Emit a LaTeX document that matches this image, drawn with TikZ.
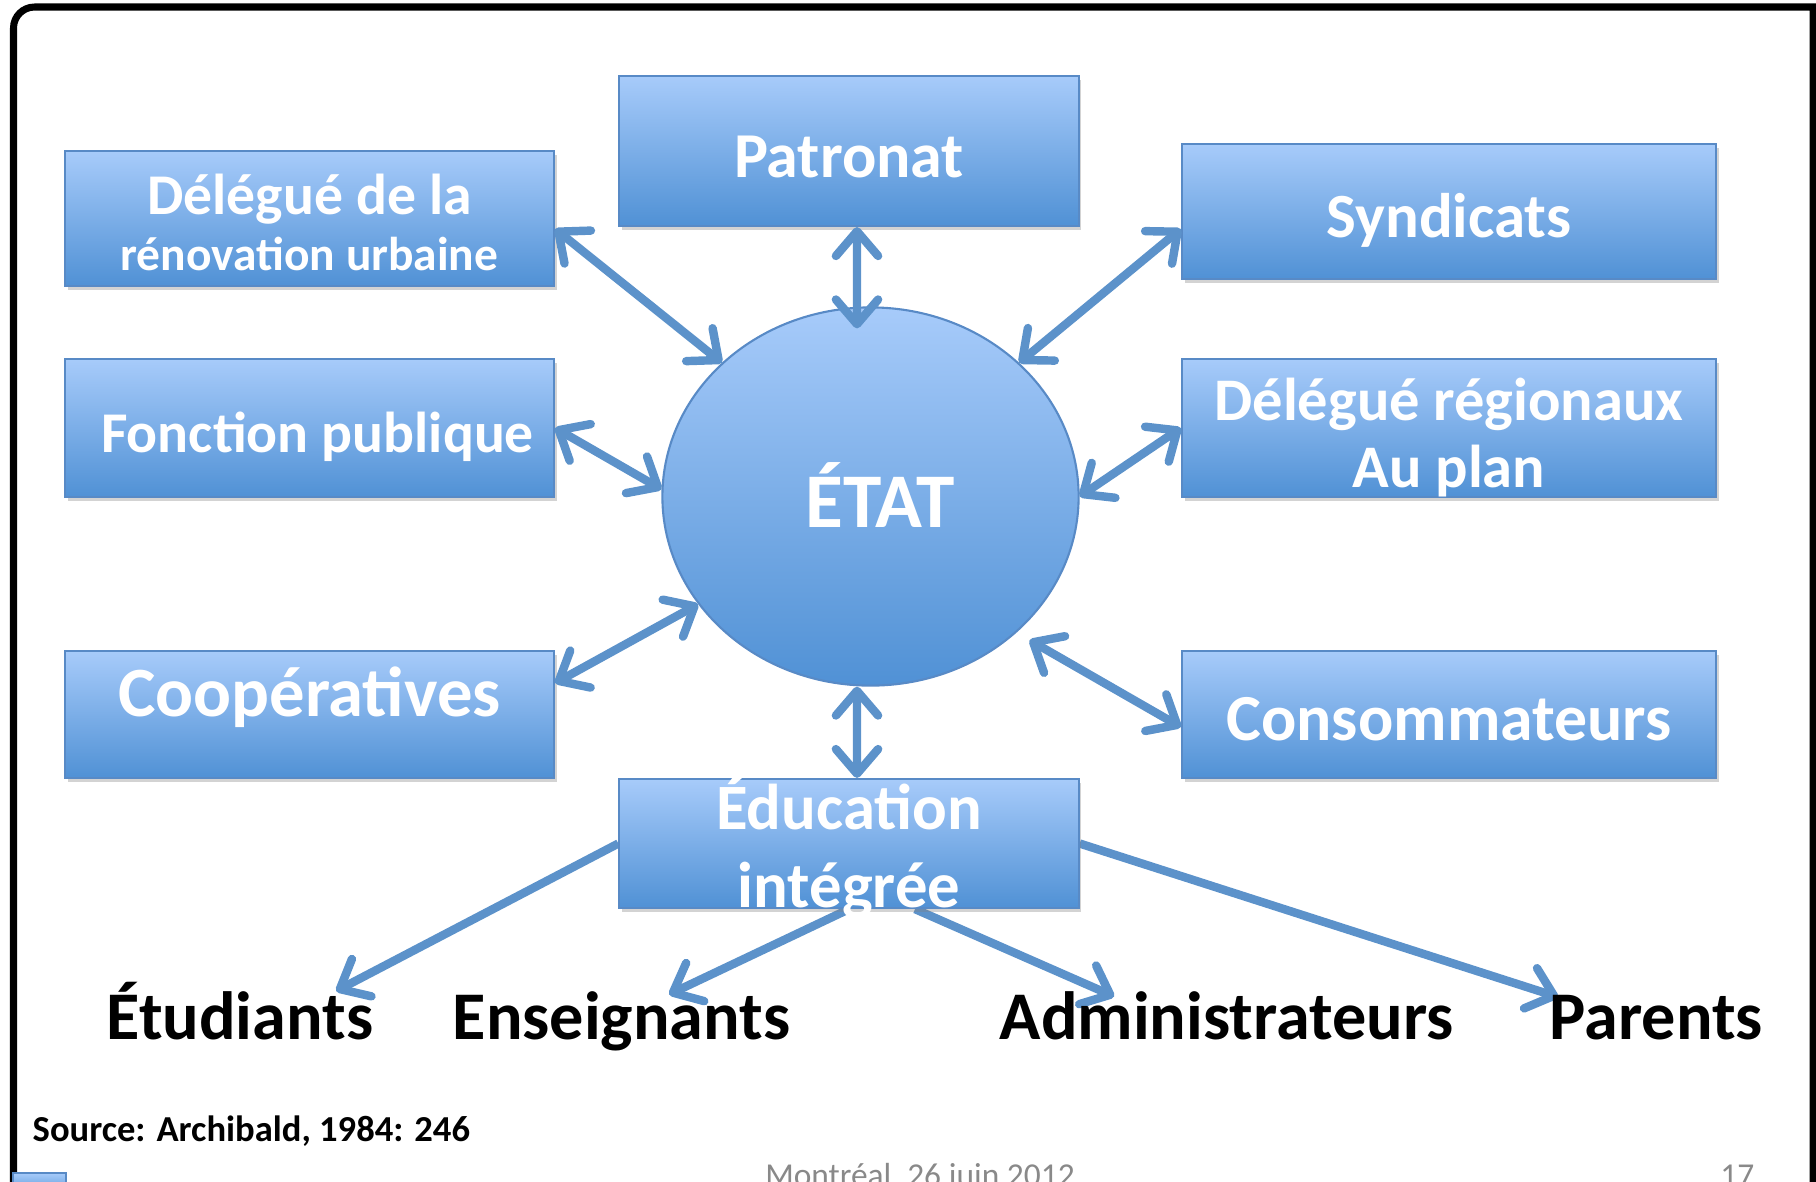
\documentclass[tikz,border=0pt]{standalone}
\usepackage{fontspec}
\setmainfont{Carlito}
\usepackage{tikz}
\usetikzlibrary{arrows.meta,shapes.geometric,shadows,backgrounds}
\definecolor{boxtop}{RGB}{167,203,250}
\definecolor{boxbot}{RGB}{80,145,213}
\definecolor{boxline}{RGB}{88,138,198}
\definecolor{linkblue}{RGB}{92,146,202}
\definecolor{footgrey}{RGB}{137,137,137}

\begin{document}
\begin{tikzpicture}[x=0.01cm, y=-0.01cm,
        acteur/.style={draw=boxline, line width=0.6pt, top color=boxtop, bottom color=boxbot,
            text=white, align=center, inner sep=0pt, text depth=0pt,
            drop shadow={shadow xshift=0.8pt, shadow yshift=-1.2pt, opacity=0.35}},
        link/.style={draw=linkblue, line width=2.4pt, <->},
        sortie/.style={draw=linkblue, line width=2.4pt, ->},
        public/.style={anchor=base west, inner sep=0pt, font=\bfseries\fontsize{19.4}{24}\selectfont},
        >={Straight Barb[length=7pt,width=12pt,round]}]
        \useasboundingbox (0,0) rectangle (1816,1181);
        \draw[line width=2pt] (13.5,1195) [rounded corners=6pt] -- (13.5,7) -- (400,7) [sharp corners] -- (1813,7) -- (1813,1195);
        \draw[draw=boxline, top color=boxtop, bottom color=boxbot] (13,1173) rectangle (66,1195);
        \node[ellipse, draw=boxline, line width=0.6pt, top color=boxtop, bottom color=boxbot, text=white,
            minimum width=4.16cm, minimum height=3.78cm, inner sep=0pt, text height=17.4pt, text depth=0pt,
            font=\bfseries\fontsize{22}{26}\selectfont] (etat) at (870.5,496.5) {\hspace*{0.2cm}ÉTAT};
        \node[acteur, minimum width=4.89cm, minimum height=1.35cm, text height=29.3pt,
            font=\bfseries\fontsize{13.5}{15.8}\selectfont] (urbaine) at (309.5,218.5)
            {{\fontsize{16.4}{15.8}\selectfont Délégué de la}\\rénovation urbaine};
        \node[acteur, minimum width=4.59cm, minimum height=1.5cm, text height=14.8pt,
            font=\bfseries\fontsize{18.2}{22}\selectfont] (patronat) at (849,151) {Patronat};
        \node[acteur, minimum width=5.34cm, minimum height=1.35cm, text height=14.8pt,
            font=\bfseries\fontsize{17.9}{22}\selectfont] (syndicats) at (1449,211.5) {Syndicats};
        \node[acteur, minimum width=4.89cm, minimum height=1.38cm, text height=13.7pt,
            font=\bfseries\fontsize{16.4}{21}\selectfont] (fonction) at (309.5,428) {\hspace*{0.16cm}Fonction publique};
        \node[acteur, minimum width=5.34cm, minimum height=1.38cm, text height=33.6pt,
            font=\bfseries\fontsize{17.2}{19}\selectfont] (regionaux) at (1449,428) {Délégué régionaux\\Au plan};
        \node[acteur, minimum width=4.89cm, minimum height=1.27cm, text height=1pt,
            font=\bfseries\fontsize{20.1}{25}\selectfont] (coop) at (309.5,714.5) {Coopératives};
        \node[acteur, minimum width=5.34cm, minimum height=1.27cm, text height=15pt,
            font=\bfseries\fontsize{18.7}{23}\selectfont] (conso) at (1449,714.5) {Consommateurs};
        \node[acteur, minimum width=4.59cm, minimum height=1.29cm, text height=36.1pt,
            font=\bfseries\fontsize{18.4}{21.9}\selectfont] (education) at (849,843.5) {Éducation\\intégrée};
        \foreach \n/\x/\t in {etudiants/106/Étudiants, enseignants/452/Enseignants, admins/999/Administrateurs, parents/1549/Parents}{
        \node[public] (\n) at (\x,1039) {\t};}
        \node[anchor=base west, inner sep=0pt, font=\bfseries\fontsize{10.4}{13}\selectfont] (source) at (32,1141) {Source: Archibald, 1984: 246};
        \node[anchor=base, inner sep=0pt, text=footgrey, font=\fontsize{9.5}{11}\selectfont] (lieu) at (920,1186) {Montréal, 26 juin 2012};
        \node[anchor=base east, inner sep=0pt, text=footgrey, font=\fontsize{9.5}{11}\selectfont] (page) at (1755,1186) {17};
        \draw[link] ([yshift=-.105cm]urbaine.east) -- (etat.138);
        \draw[link] ([xshift=.08cm]patronat.south) -- ([xshift=-.135cm,yshift=-.22cm]etat.north);
        \draw[link] ([yshift=-.175cm]syndicats.west) -- (etat.42);
        \draw[link] (fonction.east) -- (etat.178);
        \draw[link] (regionaux.west) -- (etat.east);
        \draw[link] ([yshift=.315cm]coop.east) -- (etat.212);
        \draw[link, shorten >=.15cm] ([yshift=-.125cm]conso.west) -- (etat.-43);
        \draw[link] ([xshift=.08cm]education.north) -- ([xshift=-.135cm]etat.south);
        \begin{scope}[on background layer]
        \draw[sortie] (education.west) -- ([xshift=2.3cm,yshift=-.1cm]etudiants.north west);
        \draw[sortie] (education.south) -- ([xshift=2.17cm,yshift=-.04cm]enseignants.north west);
        \draw[sortie] ([xshift=.66cm]education.south) -- ([xshift=1.15cm,yshift=-.06cm]admins.north west);
        \draw[sortie] (education.east) -- ([xshift=.09cm,yshift=-.03cm]parents.north west);
        \end{scope}
    \end{tikzpicture}
\end{document}
